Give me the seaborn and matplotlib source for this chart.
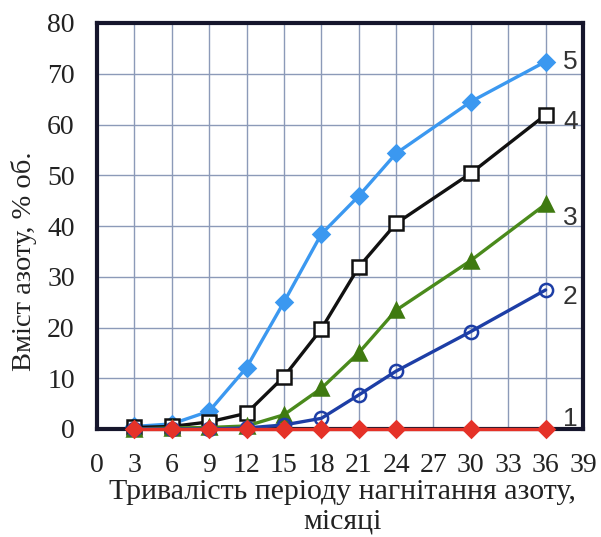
import matplotlib
matplotlib.use("Agg")
import matplotlib.pyplot as plt
import seaborn as sns
import pandas as pd

# Injection period, months
months = [3, 6, 9, 12, 15, 18, 21, 24, 30, 36]

# Nitrogen content in the produced gas, % vol., for curves 1..5
curve1 = [0, 0, 0, 0, 0, 0, 0, 0, 0, 0]
curve2 = [0, 0, 0, 0.2, 0.8, 2.1, 6.7, 11.4, 19.2, 27.4]
curve3 = [0, 0.2, 0.3, 0.6, 2.8, 8.0, 15.0, 23.4, 33.2, 44.3]
curve4 = [0.3, 0.5, 1.4, 3.1, 10.3, 19.7, 31.9, 40.5, 50.4, 61.9]
curve5 = [0.5, 1.0, 3.5, 12.1, 25.0, 38.4, 45.9, 54.3, 64.5, 72.4]

curve_names = ["1", "2", "3", "4", "5"]
x_ticks = list(range(0, 40, 3))
y_ticks = list(range(0, 90, 10))

x_label = "Тривалість періоду нагнітання азоту,\nмісяці"
y_label = "Вміст азоту, % об."

sns.set_style("white")
plt.rcParams["font.family"] = ["Liberation Serif", "DejaVu Serif"]

fig = plt.figure(figsize=(6.01, 5.37), dpi=100)
ax = fig.add_axes([97 / 601, 1 - 429 / 537, 486 / 601, 406 / 537])

styles = {
    "5": dict(color="#3b98f0", marker="D", markersize=8.5, mfc="#3b98f0", mec="#3b98f0", z=4),
    "4": dict(color="#111111", marker="s", markersize=10, mfc="white", mec="#111111", z=5),
    "3": dict(color="#4a8a1c", marker="^", markersize=10.5, mfc="#3f7a10", mec="#3f7a10", z=6),
    "2": dict(color="#1d3ea6", marker="o", markersize=9.5, mfc="none", mec="#1d3ea6", z=7),
    "1": dict(color="#e53228", marker="D", markersize=8.5, mfc="#e53228", mec="#e53228", z=8),
}
series = {"1": curve1, "2": curve2, "3": curve3, "4": curve4, "5": curve5}

for name in ["5", "4", "3", "2", "1"]:
    st = styles[name]
    df = pd.DataFrame({"month": months, "value": series[name]})
    sns.lineplot(
        data=df, x="month", y="value", ax=ax,
        color=st["color"], linewidth=2.4,
        marker=st["marker"], markersize=st["markersize"],
        markerfacecolor=st["mfc"], markeredgecolor=st["mec"],
        markeredgewidth=1.8, zorder=st["z"], clip_on=False,
    )

ax.set_xlim(0, 39)
ax.set_ylim(0, 80)
ax.set_xticks(x_ticks)
ax.set_yticks(y_ticks)
ax.grid(True, color="#8c9ab8", linewidth=1.0)
ax.set_axisbelow(True)
for sp in ax.spines.values():
    sp.set_visible(True)
    sp.set_color("#16162c")
    sp.set_linewidth(3)
    sp.set_zorder(3)

ax.tick_params(axis="both", which="major", direction="out", length=5,
               width=1, color="#6f7f9f", labelsize=20, labelcolor="#222222")
ax.tick_params(axis="x", pad=12)
ax.tick_params(axis="y", pad=11)
ax.set_xlabel("")
ax.set_ylabel("")

# Curve numbers at the right-hand end of each line
label_y = {"5": 72.4, "4": 60.5, "3": 41.5, "2": 26.0, "1": 2.0}
for name in curve_names:
    ax.text(37.4, label_y[name], name, fontsize=19, color="#333333",
            family=["Liberation Sans", "DejaVu Sans"], ha="left", va="center")

fig.text(342 / 601, 1 - 479 / 537, x_label, ha="center", va="top",
         fontsize=21.5, color="#222222", linespacing=1.2)
fig.text(24 / 601, 1 - 261 / 537, y_label, ha="center", va="center",
         rotation=90, fontsize=20.5, color="#222222")

fig.savefig("out.png", dpi=100)
